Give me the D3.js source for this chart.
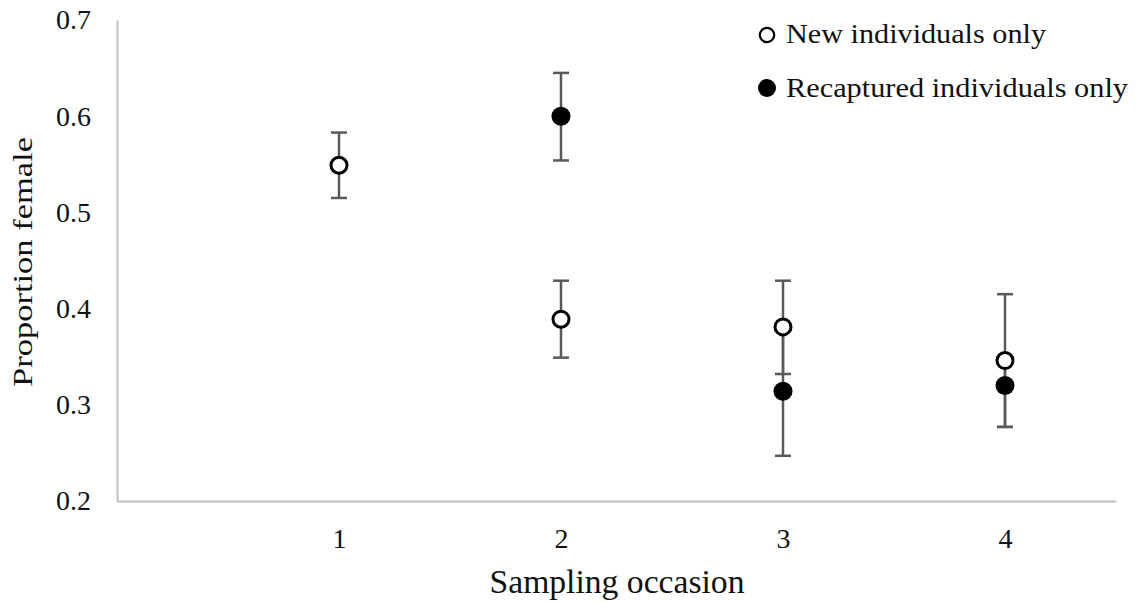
<!DOCTYPE html>
<html lang="en">
  <head>
    <meta charset="UTF-8" />
    <title>Proportion female</title>
    <script src="https://cdn.jsdelivr.net/npm/d3@7"></script>
    <style>
      body { margin: 0; background: #fff; }
      text { font-family: 'Liberation Serif', 'Times New Roman', serif; fill: #111; }
    </style>
  </head>
  <body>
    <svg width="1138" height="603"></svg>
  </body>

  <script>
    // sampling occasions
    var categories = [1, 2, 3, 4];
    var yTicks = [0.2, 0.3, 0.4, 0.5, 0.6, 0.7];

    // new individuals only (open circles)
    var newMean = [0.549, 0.389, 0.381, 0.346];
    var newLow = [0.515, 0.349, 0.332, 0.277];
    var newHigh = [0.583, 0.429, 0.429, 0.415];

    // recaptured individuals only (filled circles), none at occasion 1
    var recMean = [null, 0.600, 0.314, 0.320];
    var recLow = [null, 0.554, 0.247, 0.277];
    var recHigh = [null, 0.645, 0.381, 0.350];

    var legendLabels = ['New individuals only', 'Recaptured individuals only'];

    var svg = d3.select('svg');

    var x = d3.scaleLinear().domain([0, 4.5]).range([117, 1116]);
    var y = d3.scaleLinear().domain([0.2, 0.7]).range([501, 20]);

    // y axis
    var gy = svg.append('g')
      .attr('transform', 'translate(117,0)')
      .call(d3.axisLeft(y).tickValues(yTicks).tickSize(0).tickPadding(26).tickFormat(d3.format('.1f')));
    gy.select('.domain').attr('stroke', '#bfbfbf').attr('stroke-width', 2);
    gy.selectAll('text').style('font-family', "'Liberation Serif', serif").style('font-size', '28px').attr('fill', '#111');

    // x axis
    var gx = svg.append('g')
      .attr('transform', 'translate(0,501)')
      .call(d3.axisBottom(x).tickValues(categories).tickSize(0).tickFormat(d3.format('d')));
    gx.select('.domain').attr('stroke', '#bfbfbf').attr('stroke-width', 2);
    gx.selectAll('text')
      .style('font-family', "'Liberation Serif', serif").style('font-size', '28px')
      .attr('fill', '#111').attr('y', 47).attr('dy', 0);

    // axis titles
    svg.append('text')
      .attr('x', 617).attr('y', 593)
      .attr('text-anchor', 'middle')
      .style('font-size', '33px')
      .attr('textLength', 255).attr('lengthAdjust', 'spacingAndGlyphs')
      .text('Sampling occasion');

    svg.append('text')
      .attr('transform', 'translate(32,262) rotate(-90)')
      .attr('text-anchor', 'middle')
      .style('font-size', '28px')
      .attr('textLength', 250).attr('lengthAdjust', 'spacingAndGlyphs')
      .text('Proportion female');

    function drawBars(mean, low, high) {
      var idx = d3.range(categories.length).filter(function (i) { return mean[i] != null; });
      var bars = svg.append('g').selectAll('g').data(idx).enter().append('g')
        .attr('stroke', '#595959').attr('stroke-width', 2.5);
      bars.append('line')
        .attr('x1', function (i) { return x(categories[i]); })
        .attr('x2', function (i) { return x(categories[i]); })
        .attr('y1', function (i) { return y(low[i]); })
        .attr('y2', function (i) { return y(high[i]); });
      [low, high].forEach(function (arr) {
        bars.append('line')
          .attr('x1', function (i) { return x(categories[i]) - 8; })
          .attr('x2', function (i) { return x(categories[i]) + 8; })
          .attr('y1', function (i) { return y(arr[i]); })
          .attr('y2', function (i) { return y(arr[i]); });
      });
      return idx;
    }

    var recIdx = drawBars(recMean, recLow, recHigh);
    var newIdx = drawBars(newMean, newLow, newHigh);

    svg.append('g').selectAll('circle').data(recIdx).enter().append('circle')
      .attr('cx', function (i) { return x(categories[i]); })
      .attr('cy', function (i) { return y(recMean[i]); })
      .attr('r', 9.5)
      .attr('fill', '#000');

    svg.append('g').selectAll('circle').data(newIdx).enter().append('circle')
      .attr('cx', function (i) { return x(categories[i]); })
      .attr('cy', function (i) { return y(newMean[i]); })
      .attr('r', 8)
      .attr('fill', '#fff')
      .attr('stroke', '#000')
      .attr('stroke-width', 3);

    // legend
    var legend = svg.append('g');
    legend.append('circle').attr('cx', 767).attr('cy', 35).attr('r', 7.2)
      .attr('fill', '#fff').attr('stroke', '#000').attr('stroke-width', 2.2);
    legend.append('circle').attr('cx', 767).attr('cy', 88).attr('r', 9).attr('fill', '#000');
    legend.append('text').attr('x', 786).attr('y', 43).style('font-size', '28px')
      .attr('textLength', 260).attr('lengthAdjust', 'spacingAndGlyphs')
      .text(legendLabels[0]);
    legend.append('text').attr('x', 786).attr('y', 97).style('font-size', '28px')
      .attr('textLength', 342).attr('lengthAdjust', 'spacingAndGlyphs')
      .text(legendLabels[1]);
  </script>
</html>
